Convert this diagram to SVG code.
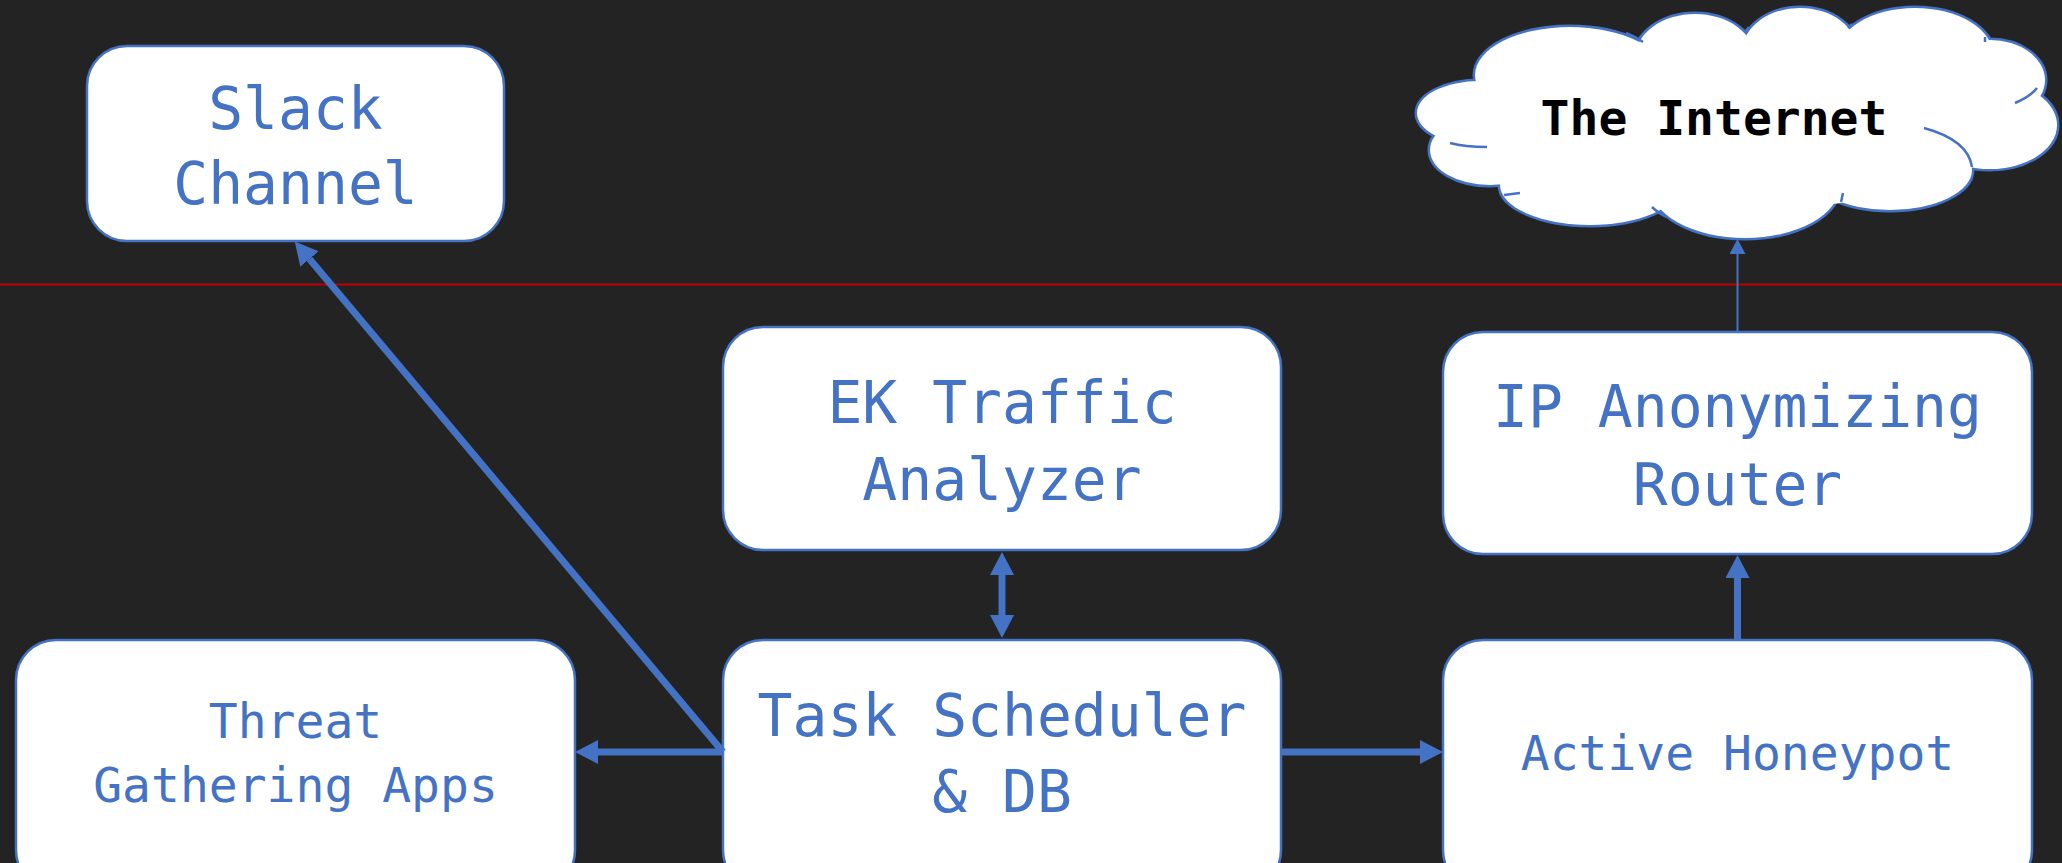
<svg xmlns="http://www.w3.org/2000/svg" width="2062" height="863" viewBox="0 0 2062 863">
<style>
.box{fill:#FFFFFF;stroke:#4472C4;stroke-width:2.5}
.lbl{font-family:"DejaVu Sans Mono","Liberation Mono",monospace;fill:#4472C4;text-anchor:middle}
.big{font-size:58px}
.small{font-size:48px}
.conn{stroke:#4472C4;stroke-width:7;fill:none}
.thin{stroke:#4472C4;stroke-width:2;fill:none}
.cs{fill:none;stroke:#4472C4;stroke-width:5}
.cf{fill:#FFFFFF;stroke:none}
.ci{fill:none;stroke:#4472C4;stroke-width:2.5}
</style>
<defs>
<marker id="ah" markerUnits="userSpaceOnUse" markerWidth="24" markerHeight="24" refX="0" refY="12" orient="auto" viewBox="0 0 24 24">
<path d="M0,0 L23,12 L0,24 z" fill="#4472C4"/>
</marker>
<marker id="ahs" markerUnits="userSpaceOnUse" markerWidth="24" markerHeight="24" refX="0" refY="12" orient="auto-start-reverse" viewBox="0 0 24 24">
<path d="M0,0 L23,12 L0,24 z" fill="#4472C4"/>
</marker>
<marker id="aht" markerUnits="userSpaceOnUse" markerWidth="16" markerHeight="16" refX="0" refY="8" orient="auto" viewBox="0 0 16 16">
<path d="M0,0 L15,8 L0,16 z" fill="#4472C4"/>
</marker>
</defs>
<rect width="2062" height="863" fill="#232323"/>
<line x1="0" y1="284.5" x2="2062" y2="284.5" stroke="#C00000" stroke-width="2"/>

<g id="internet">
<g class="cs">
<ellipse cx="1480" cy="113" rx="63" ry="32"/>
<ellipse cx="1570" cy="75" rx="95" ry="48"/>
<ellipse cx="1695" cy="58" rx="60" ry="44"/>
<ellipse cx="1800" cy="52" rx="58" ry="44"/>
<ellipse cx="1915" cy="55" rx="78" ry="47"/>
<ellipse cx="1990" cy="80" rx="55" ry="40"/>
<ellipse cx="1990" cy="125" rx="67" ry="44"/>
<ellipse cx="1890" cy="170" rx="82" ry="40"/>
<ellipse cx="1745" cy="185" rx="95" ry="53"/>
<ellipse cx="1590" cy="185" rx="90" ry="40"/>
<ellipse cx="1490" cy="150" rx="60" ry="35"/>
</g>
<g class="cf">
<ellipse cx="1480" cy="113" rx="63" ry="32"/>
<ellipse cx="1570" cy="75" rx="95" ry="48"/>
<ellipse cx="1695" cy="58" rx="60" ry="44"/>
<ellipse cx="1800" cy="52" rx="58" ry="44"/>
<ellipse cx="1915" cy="55" rx="78" ry="47"/>
<ellipse cx="1990" cy="80" rx="55" ry="40"/>
<ellipse cx="1990" cy="125" rx="67" ry="44"/>
<ellipse cx="1890" cy="170" rx="82" ry="40"/>
<ellipse cx="1745" cy="185" rx="95" ry="53"/>
<ellipse cx="1590" cy="185" rx="90" ry="40"/>
<ellipse cx="1490" cy="150" rx="60" ry="35"/>
<ellipse cx="1737" cy="125" rx="260" ry="85"/>
</g>
<g class="ci">
<path d="M1924,128 Q1968,140 1972,167"/>
<path d="M1450,143 Q1465,147 1487,147"/>
<path d="M2015,103 Q2030,97 2037,88"/>
<path d="M1504,195 L1520,193"/>
<path d="M1652,207 Q1658,213 1667,217"/>
<path d="M1843,193 L1841,202"/>
<path d="M1626,33 Q1636,37 1643,42"/>
<path d="M1745,32 L1749,27"/>
<path d="M1848,28 L1852,24"/>
<path d="M1985,37 L1985,42"/>
</g>
<text x="1714" y="135" font-family="DejaVu Sans Mono,Liberation Mono,monospace" font-weight="bold" font-size="48" fill="#000000" text-anchor="middle">The Internet</text>
</g>

<g id="slack">
<rect class="box" x="87" y="46" width="417" height="195" rx="40"/>
<text class="lbl big" x="295.5" y="129">Slack</text>
<text class="lbl big" x="295.5" y="204">Channel</text>
</g>

<g id="ek">
<rect class="box" x="723" y="327" width="558" height="223" rx="40"/>
<text class="lbl big" x="1002" y="423">EK Traffic</text>
<text class="lbl big" x="1002" y="500">Analyzer</text>
</g>

<g id="router">
<rect class="box" x="1443" y="332" width="589" height="222" rx="40"/>
<text class="lbl big" x="1737.5" y="427">IP Anonymizing</text>
<text class="lbl big" x="1737.5" y="505">Router</text>
</g>

<g id="threat">
<rect class="box" x="16" y="640" width="559" height="250" rx="40"/>
<text class="lbl small" x="295.5" y="738">Threat</text>
<text class="lbl small" x="295.5" y="802">Gathering Apps</text>
</g>

<g id="scheduler">
<rect class="box" x="723" y="640" width="558" height="250" rx="40"/>
<text class="lbl big" x="1002" y="736">Task Scheduler</text>
<text class="lbl big" x="1002" y="812">&amp; DB</text>
</g>

<g id="honeypot">
<rect class="box" x="1443" y="640" width="589" height="250" rx="40"/>
<text class="lbl small" x="1737.5" y="770">Active Honeypot</text>
</g>

<g id="connectors">
<line class="conn" x1="723" y1="752" x2="309.5" y2="259" marker-end="url(#ah)"/>
<line class="conn" x1="723" y1="752" x2="598" y2="752" marker-end="url(#ah)"/>
<line class="conn" x1="1281" y1="752" x2="1420" y2="752" marker-end="url(#ah)"/>
<line class="conn" x1="1002" y1="575" x2="1002" y2="615" marker-start="url(#ahs)" marker-end="url(#ahs)"/>
<line class="conn" x1="1737.5" y1="640" x2="1737.5" y2="578" marker-end="url(#ah)"/>
<line class="thin" x1="1737.5" y1="332" x2="1737.5" y2="254" marker-end="url(#aht)"/>
</g>
</svg>
